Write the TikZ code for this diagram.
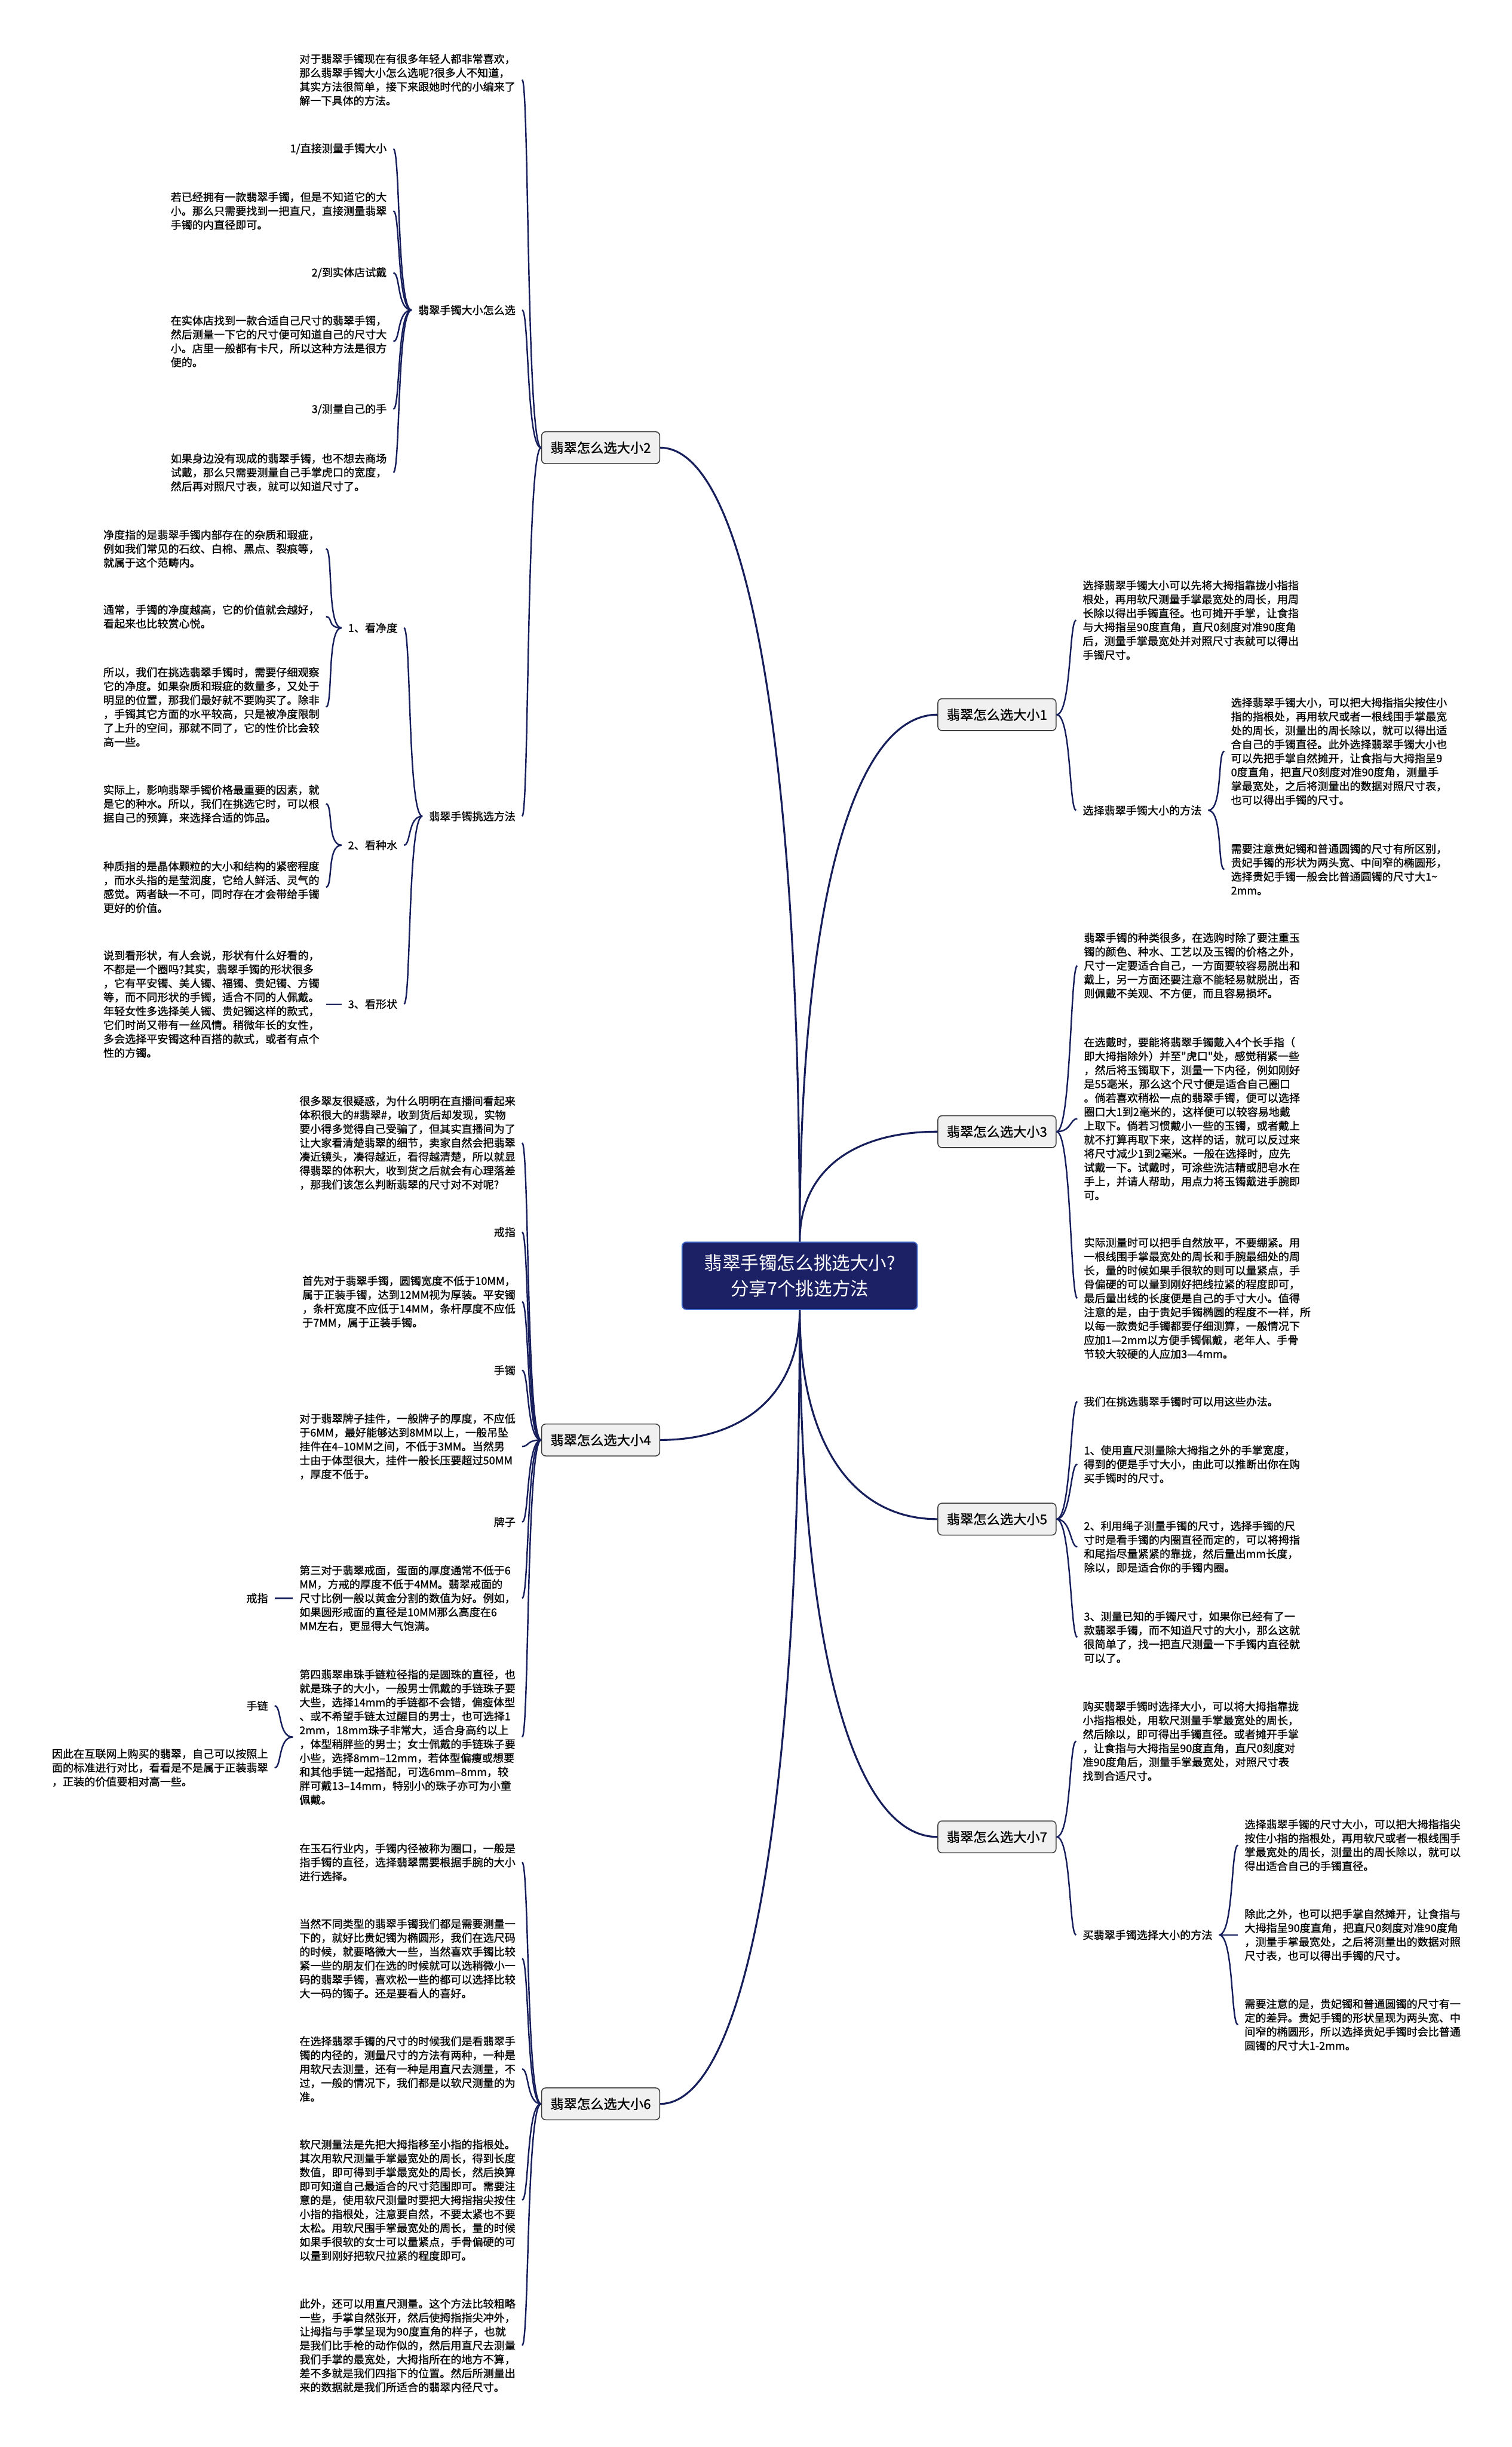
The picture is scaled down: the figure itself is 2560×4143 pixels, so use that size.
\documentclass[tikz,border=0pt]{standalone}
\usepackage{fontspec}
\newfontfamily\zh{Noto Sans CJK SC}
\newfontfamily\zhleaf[RawFeature={embolden=1}]{Noto Sans CJK SC}
\definecolor{linkcol}{RGB}{22,30,92}
\definecolor{rootfill}{RGB}{27,33,100}
\definecolor{rootline}{RGB}{70,110,210}
\definecolor{boxfill}{RGB}{240,240,240}
\definecolor{boxline}{RGB}{60,60,60}
\newcommand{\leaffont}{\zhleaf\fontsize{5.2}{6.7}\selectfont}

\begin{document}
\begin{tikzpicture}[x=0.01cm, y=-0.01cm,
    rootbox/.style={draw=rootline, fill=rootfill, rounded corners=2pt, line width=0.5pt, minimum width=3.98cm, minimum height=1.14cm, align=center, text=white, font=\zh\fontsize{8.8}{12.2}\selectfont},
    topic/.style={draw=boxline, fill=boxfill, rounded corners=2pt, line width=0.45pt, minimum width=2cm, minimum height=0.54cm, inner sep=0pt, font=\zhleaf\fontsize{6.4}{7.5}\selectfont},
    leafl/.style={anchor=east, align=left, inner xsep=3pt, inner ysep=1pt, font=\leaffont},
    leafr/.style={anchor=west, align=left, inner xsep=3pt, inner ysep=1pt, font=\leaffont},
    trunk/.style={draw=linkcol, line width=0.9pt},
    twigl/.style={draw=linkcol, line width=0.7pt, out=180, in=0, out distance=2.5mm, in distance=1.2mm},
    twigr/.style={draw=linkcol, line width=0.7pt, out=0, in=180, out distance=2.5mm, in distance=1.2mm}
]
    \useasboundingbox (0,0) rectangle (2560,4143);
    \fill [white] (0,0) rectangle (2560,4143);

    % Central topic
    \node (root) [rootbox] at (1354, 2160) {翡翠手镯怎么挑选大小?\\分享7个挑选方法};

    % Main branches
    \node (b1) [topic] at (1688, 1210) {翡翠怎么选大小1};
    \node (b2) [topic] at (1017, 758) {翡翠怎么选大小2};
    \node (b3) [topic] at (1688, 1916) {翡翠怎么选大小3};
    \node (b4) [topic] at (1017, 2438) {翡翠怎么选大小4};
    \node (b5) [topic] at (1688, 2572) {翡翠怎么选大小5};
    \node (b6) [topic] at (1017, 3562) {翡翠怎么选大小6};
    \node (b7) [topic] at (1688, 3110) {翡翠怎么选大小7};

    % Branch 2
    \node (intro2) [leafl] at (884, 135) {对于翡翠手镯现在有很多年轻人都非常喜欢，\\那么翡翠手镯大小怎么选呢?很多人不知道，\\其实方法很简单，接下来跟她时代的小编来了\\解一下具体的方法。};
    \node (howto2) [leafl] at (884, 525) {翡翠手镯大小怎么选};
    \node (m1) [leafl] at (666, 252) {1/直接测量手镯大小};
    \node (m1t) [leafl] at (666, 357) {若已经拥有一款翡翠手镯，但是不知道它的大\\小。那么只需要找到一把直尺，直接测量翡翠\\手镯的内直径即可。};
    \node (m2) [leafl] at (666, 462) {2/到实体店试戴};
    \node (m2t) [leafl] at (666, 578) {在实体店找到一款合适自己尺寸的翡翠手镯，\\然后测量一下它的尺寸便可知道自己的尺寸大\\小。店里一般都有卡尺，所以这种方法是很方\\便的。};
    \node (m3) [leafl] at (666, 693) {3/测量自己的手};
    \node (m3t) [leafl] at (666, 800) {如果身边没有现成的翡翠手镯，也不想去商场\\试戴，那么只需要测量自己手掌虎口的宽度，\\然后再对照尺寸表，就可以知道尺寸了。};
    \node (pick2) [leafl] at (884, 1382) {翡翠手镯挑选方法};
    \node (clar) [leafl] at (684, 1063) {1、看净度};
    \node (clar1) [leafl] at (552, 929) {净度指的是翡翠手镯内部存在的杂质和瑕疵，\\例如我们常见的石纹、白棉、黑点、裂痕等，\\就属于这个范畴内。};
    \node (clar2) [leafl] at (552, 1044) {通常，手镯的净度越高，它的价值就会越好，\\看起来也比较赏心悦。};
    \node (clar3) [leafl] at (552, 1197) {所以，我们在挑选翡翠手镯时，需要仔细观察\\它的净度。如果杂质和瑕疵的数量多，又处于\\明显的位置，那我们最好就不要购买了。除非\\，手镯其它方面的水平较高，只是被净度限制\\了上升的空间，那就不同了，它的性价比会较\\高一些。};
    \node (water) [leafl] at (684, 1431) {2、看种水};
    \node (water1) [leafl] at (552, 1361) {实际上，影响翡翠手镯价格最重要的因素，就\\是它的种水。所以，我们在挑选它时，可以根\\据自己的预算，来选择合适的饰品。};
    \node (water2) [leafl] at (552, 1502) {种质指的是晶体颗粒的大小和结构的紧密程度\\，而水头指的是莹润度，它给人鲜活、灵气的\\感觉。两者缺一不可，同时存在才会带给手镯\\更好的价值。};
    \node (shape) [leafl] at (684, 1700) {3、看形状};
    \node (shape1) [leafl] at (552, 1700) {说到看形状，有人会说，形状有什么好看的，\\不都是一个圈吗?其实，翡翠手镯的形状很多\\，它有平安镯、美人镯、福镯、贵妃镯、方镯\\等，而不同形状的手镯，适合不同的人佩戴。\\年轻女性多选择美人镯、贵妃镯这样的款式，\\它们时尚又带有一丝风情。稍微年长的女性，\\多会选择平安镯这种百搭的款式，或者有点个\\性的方镯。};

    % Branch 4
    \node (live4) [leafl] at (884, 1935) {很多翠友很疑惑，为什么明明在直播间看起来\\体积很大的\#翡翠\#，收到货后却发现，实物\\要小得多觉得自己受骗了，但其实直播间为了\\让大家看清楚翡翠的细节，卖家自然会把翡翠\\凑近镜头，凑得越近，看得越清楚，所以就显\\得翡翠的体积大，收到货之后就会有心理落差\\，那我们该怎么判断翡翠的尺寸对不对呢?};
    \node (ring4) [leafl] at (884, 2086) {戒指};
    \node (bangle4t) [leafl] at (884, 2204) {首先对于翡翠手镯，圆镯宽度不低于10MM，\\属于正装手镯，达到12MM视为厚装。平安镯\\，条杆宽度不应低于14MM，条杆厚度不应低\\于7MM，属于正装手镯。};
    \node (bangle4) [leafl] at (884, 2320) {手镯};
    \node (tag4t) [leafl] at (884, 2449) {对于翡翠牌子挂件，一般牌子的厚度，不应低\\于6MM，最好能够达到8MM以上，一般吊坠\\挂件在4–10MM之间，不低于3MM。当然男\\士由于体型很大，挂件一般长压要超过50MM\\，厚度不低于。};
    \node (tag4) [leafl] at (884, 2577) {牌子};
    \node (ring4t) [leafl] at (884, 2706) {第三对于翡翠戒面，蛋面的厚度通常不低于6\\MM，方戒的厚度不低于4MM。翡翠戒面的\\尺寸比例一般以黄金分割的数值为好。例如，\\如果圆形戒面的直径是10MM那么高度在6\\MM左右，更显得大气饱满。};
    \node (ring4b) [leafl] at (465, 2706) {戒指};
    \node (chain4t) [leafl] at (884, 2941) {第四翡翠串珠手链粒径指的是圆珠的直径，也\\就是珠子的大小，一般男士佩戴的手链珠子要\\大些，选择14mm的手链都不会错，偏瘦体型\\、或不希望手链太过醒目的男士，也可选择1\\2mm，18mm珠子非常大，适合身高约以上\\，体型稍胖些的男士；女士佩戴的手链珠子要\\小些，选择8mm–12mm，若体型偏瘦或想要\\和其他手链一起搭配，可选6mm–8mm，较\\胖可戴13–14mm，特别小的珠子亦可为小童\\佩戴。};
    \node (chain4) [leafl] at (465, 2888) {手链};
    \node (web4) [leafl] at (465, 2993) {因此在互联网上购买的翡翠，自己可以按照上\\面的标准进行对比，看看是不是属于正装翡翠\\，正装的价值要相对高一些。};

    % Branch 6
    \node (b6a) [leafl] at (884, 3153) {在玉石行业内，手镯内径被称为圈口，一般是\\指手镯的直径，选择翡翠需要根据手腕的大小\\进行选择。};
    \node (b6b) [leafl] at (884, 3316) {当然不同类型的翡翠手镯我们都是需要测量一\\下的，就好比贵妃镯为椭圆形，我们在选尺码\\的时候，就要略微大一些，当然喜欢手镯比较\\紧一些的朋友们在选的时候就可以选稍微小一\\码的翡翠手镯，喜欢松一些的都可以选择比较\\大一码的镯子。还是要看人的喜好。};
    \node (b6c) [leafl] at (884, 3503) {在选择翡翠手镯的尺寸的时候我们是看翡翠手\\镯的内径的，测量尺寸的方法有两种，一种是\\用软尺去测量，还有一种是用直尺去测量，不\\过，一般的情况下，我们都是以软尺测量的为\\准。};
    \node (b6d) [leafl] at (884, 3725) {软尺测量法是先把大拇指移至小指的指根处。\\其次用软尺测量手掌最宽处的周长，得到长度\\数值，即可得到手掌最宽处的周长，然后换算\\即可知道自己最适合的尺寸范围即可。需要注\\意的是，使用软尺测量时要把大拇指指尖按住\\小指的指根处，注意要自然，不要太紧也不要\\太松。用软尺围手掌最宽处的周长，量的时候\\如果手很软的女士可以量紧点，手骨偏硬的可\\以量到刚好把软尺拉紧的程度即可。};
    \node (b6e) [leafl] at (884, 3971) {此外，还可以用直尺测量。这个方法比较粗略\\一些，手掌自然张开，然后使拇指指尖冲外，\\让拇指与手掌呈现为90度直角的样子，也就\\是我们比手枪的动作似的，然后用直尺去测量\\我们手掌的最宽处，大拇指所在的地方不算，\\差不多就是我们四指下的位置。然后所测量出\\来的数据就是我们所适合的翡翠内径尺寸。};

    % Branch 1
    \node (b1a) [leafr] at (1822, 1050) {选择翡翠手镯大小可以先将大拇指靠拢小指指\\根处，再用软尺测量手掌最宽处的周长，用周\\长除以得出手镯直径。也可摊开手掌，让食指\\与大拇指呈90度直角，直尺0刻度对准90度角\\后，测量手掌最宽处并对照尺寸表就可以得出\\手镯尺寸。};
    \node (b1b) [leafr] at (1822, 1372) {选择翡翠手镯大小的方法};
    \node (b1b1) [leafr] at (2073, 1272) {选择翡翠手镯大小，可以把大拇指指尖按住小\\指的指根处，再用软尺或者一根线围手掌最宽\\处的周长，测量出的周长除以，就可以得出适\\合自己的手镯直径。此外选择翡翠手镯大小也\\可以先把手掌自然摊开，让食指与大拇指呈9\\0度直角，把直尺0刻度对准90度角，测量手\\掌最宽处，之后将测量出的数据对照尺寸表，\\也可以得出手镯的尺寸。};
    \node (b1b2) [leafr] at (2073, 1472) {需要注意贵妃镯和普通圆镯的尺寸有所区别，\\贵妃手镯的形状为两头宽、中间窄的椭圆形，\\选择贵妃手镯一般会比普通圆镯的尺寸大1\textasciitilde\\2mm。};

    % Branch 3
    \node (b3a) [leafr] at (1824, 1635) {翡翠手镯的种类很多，在选购时除了要注重玉\\镯的颜色、种水、工艺以及玉镯的价格之外，\\尺寸一定要适合自己，一方面要较容易脱出和\\戴上，另一方面还要注意不能轻易就脱出，否\\则佩戴不美观、不方便，而且容易损坏。};
    \node (b3b) [leafr] at (1824, 1894) {在选戴时，要能将翡翠手镯戴入4个长手指（\\即大拇指除外）并至"虎口"处，感觉稍紧一些\\，然后将玉镯取下，测量一下内径，例如刚好\\是55毫米，那么这个尺寸便是适合自己圈口\\。倘若喜欢稍松一点的翡翠手镯，便可以选择\\圈口大1到2毫米的，这样便可以较容易地戴\\上取下。倘若习惯戴小一些的玉镯，或者戴上\\就不打算再取下来，这样的话，就可以反过来\\将尺寸减少1到2毫米。一般在选择时，应先\\试戴一下。试戴时，可涂些洗洁精或肥皂水在\\手上，并请人帮助，用点力将玉镯戴进手腕即\\可。};
    \node (b3c) [leafr] at (1824, 2198) {实际测量时可以把手自然放平，不要绷紧。用\\一根线围手掌最宽处的周长和手腕最细处的周\\长，量的时候如果手很软的则可以量紧点，手\\骨偏硬的可以量到刚好把线拉紧的程度即可，\\最后量出线的长度便是自己的手寸大小。值得\\注意的是，由于贵妃手镯椭圆的程度不一样，所\\以每一款贵妃手镯都要仔细测算，一般情况下\\应加1—2mm以方便手镯佩戴，老年人、手骨\\节较大较硬的人应加3—4mm。};

    % Branch 5
    \node (b5a) [leafr] at (1824, 2373) {我们在挑选翡翠手镯时可以用这些办法。};
    \node (b5b) [leafr] at (1824, 2479) {1、使用直尺测量除大拇指之外的手掌宽度，\\得到的便是手寸大小，由此可以推断出你在购\\买手镯时的尺寸。};
    \node (b5c) [leafr] at (1824, 2619) {2、利用绳子测量手镯的尺寸，选择手镯的尺\\寸时是看手镯的内圈直径而定的，可以将拇指\\和尾指尽量紧紧的靠拢，然后量出mm长度，\\除以，即是适合你的手镯内圈。};
    \node (b5d) [leafr] at (1824, 2772) {3、测量已知的手镯尺寸，如果你已经有了一\\款翡翠手镯，而不知道尺寸的大小，那么这就\\很简单了，找一把直尺测量一下手镯内直径就\\可以了。};

    % Branch 7
    \node (b7a) [leafr] at (1822, 2948) {购买翡翠手镯时选择大小，可以将大拇指靠拢\\小指指根处，用软尺测量手掌最宽处的周长，\\然后除以，即可得出手镯直径。或者摊开手掌\\，让食指与大拇指呈90度直角，直尺0刻度对\\准90度角后，测量手掌最宽处，对照尺寸表\\找到合适尺寸。};
    \node (b7b) [leafr] at (1822, 3276) {买翡翠手镯选择大小的方法};
    \node (b7b1) [leafr] at (2096, 3124) {选择翡翠手镯的尺寸大小，可以把大拇指指尖\\按住小指的指根处，再用软尺或者一根线围手\\掌最宽处的周长，测量出的周长除以，就可以\\得出适合自己的手镯直径。};
    \node (b7b2) [leafr] at (2096, 3276) {除此之外，也可以把手掌自然摊开，让食指与\\大拇指呈90度直角，把直尺0刻度对准90度角\\，测量手掌最宽处，之后将测量出的数据对照\\尺寸表，也可以得出手镯的尺寸。};
    \node (b7b3) [leafr] at (2096, 3428) {需要注意的是，贵妃镯和普通圆镯的尺寸有一\\定的差异。贵妃手镯的形状呈现为两头宽、中\\间窄的椭圆形，所以选择贵妃手镯时会比普通\\圆镯的尺寸大1-2mm。};

    % Root connectors
    \draw [trunk] (root.north) .. controls +(0,-874) and +(140,0) .. (b2.east);
    \draw [trunk] (root.north) .. controls +(0,-580) and +(-140,0) .. (b1.west);
    \draw [trunk] (root.north) .. controls +(0,-122) and +(-140,0) .. (b3.west);
    \draw [trunk] (root.south) .. controls +(0,144) and +(140,0) .. (b4.east);
    \draw [trunk] (root.south) .. controls +(0,231) and +(-140,0) .. (b5.west);
    \draw [trunk] (root.south) .. controls +(0,874) and +(140,0) .. (b6.east);
    \draw [trunk] (root.south) .. controls +(0,580) and +(-140,0) .. (b7.west);

    % Branch 2 connectors
    \draw [twigl] (b2.west) to (intro2.east);
    \draw [twigl] (b2.west) to (howto2.east);
    \draw [twigl] (b2.west) to (pick2.east);
    \draw [twigl] (howto2.west) to (m1.east);
    \draw [twigl] (howto2.west) to (m1t.east);
    \draw [twigl] (howto2.west) to (m2.east);
    \draw [twigl] (howto2.west) to (m2t.east);
    \draw [twigl] (howto2.west) to (m3.east);
    \draw [twigl] (howto2.west) to (m3t.east);
    \draw [twigl] (pick2.west) to (clar.east);
    \draw [twigl] (pick2.west) to (water.east);
    \draw [twigl] (pick2.west) to (shape.east);
    \draw [twigl] (clar.west) to (clar1.east);
    \draw [twigl] (clar.west) to (clar2.east);
    \draw [twigl] (clar.west) to (clar3.east);
    \draw [twigl] (water.west) to (water1.east);
    \draw [twigl] (water.west) to (water2.east);
    \draw [twigl] (shape.west) to (shape1.east);

    % Branch 4 connectors
    \draw [twigl] (b4.west) to (live4.east);
    \draw [twigl] (b4.west) to (ring4.east);
    \draw [twigl] (b4.west) to (bangle4t.east);
    \draw [twigl] (b4.west) to (bangle4.east);
    \draw [twigl] (b4.west) to (tag4t.east);
    \draw [twigl] (b4.west) to (tag4.east);
    \draw [twigl] (b4.west) to (ring4t.east);
    \draw [twigl] (b4.west) to (chain4t.east);
    \draw [twigl] (ring4t.west) to (ring4b.east);
    \draw [twigl] (chain4t.west) to (chain4.east);
    \draw [twigl] (chain4t.west) to (web4.east);

    % Branch 6 connectors
    \draw [twigl] (b6.west) to (b6a.east);
    \draw [twigl] (b6.west) to (b6b.east);
    \draw [twigl] (b6.west) to (b6c.east);
    \draw [twigl] (b6.west) to (b6d.east);
    \draw [twigl] (b6.west) to (b6e.east);

    % Right side connectors
    \draw [twigr] (b1.east) to (b1a.west);
    \draw [twigr] (b1.east) to (b1b.west);
    \draw [twigr] (b1b.east) to (b1b1.west);
    \draw [twigr] (b1b.east) to (b1b2.west);
    \draw [twigr] (b3.east) to (b3a.west);
    \draw [twigr] (b3.east) to (b3b.west);
    \draw [twigr] (b3.east) to (b3c.west);
    \draw [twigr] (b5.east) to (b5a.west);
    \draw [twigr] (b5.east) to (b5b.west);
    \draw [twigr] (b5.east) to (b5c.west);
    \draw [twigr] (b5.east) to (b5d.west);
    \draw [twigr] (b7.east) to (b7a.west);
    \draw [twigr] (b7.east) to (b7b.west);
    \draw [twigr] (b7b.east) to (b7b1.west);
    \draw [twigr] (b7b.east) to (b7b2.west);
    \draw [twigr] (b7b.east) to (b7b3.west);

\end{tikzpicture}
\end{document}
